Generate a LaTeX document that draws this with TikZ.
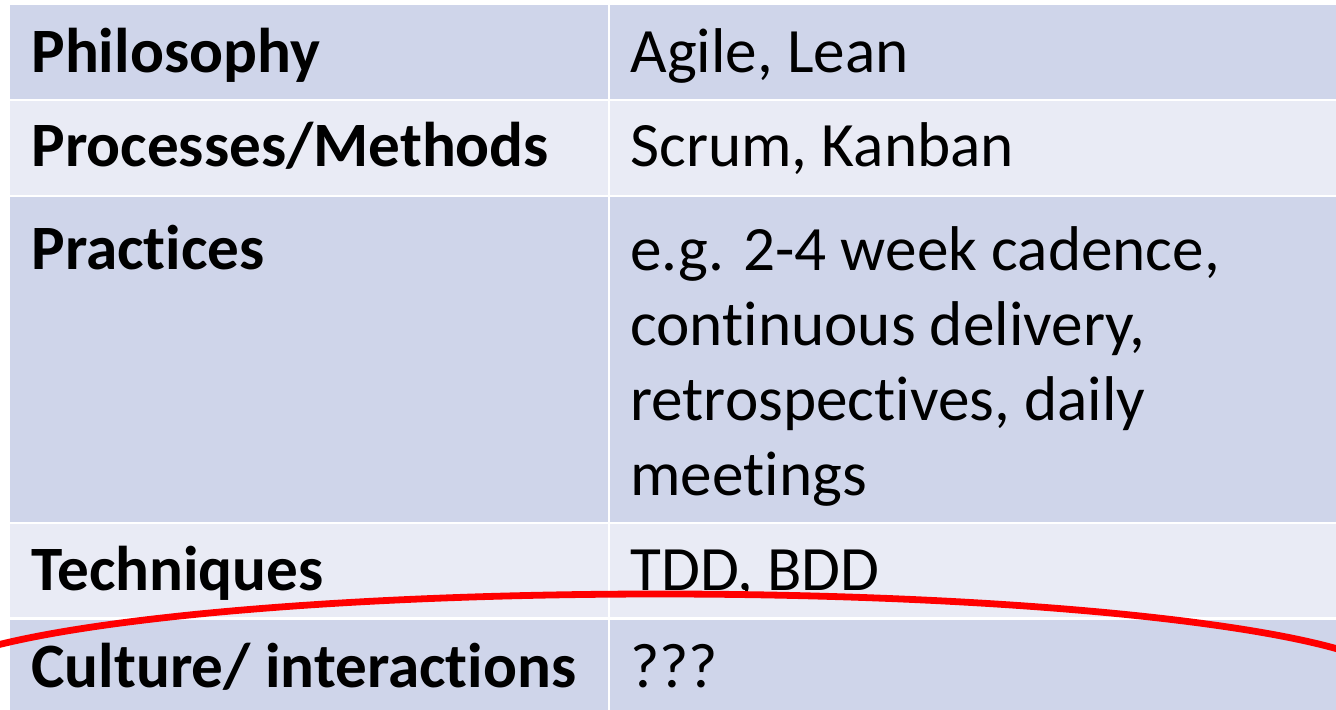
\documentclass[tikz,border=0pt]{standalone}
\usepackage{fontspec}
\setmainfont[Ligatures=NoCommon]{Carlito}
\usepackage{xcolor}
\definecolor{rowdark}{HTML}{CFD5EA}
\definecolor{rowlight}{HTML}{E9EBF5}
\tikzset{
  cell/.style={inner sep=0pt, anchor=base west, align=left,
               font=\fontsize{31.6}{37.5}\selectfont},
  head/.style={cell, font=\fontsize{31.6}{37.5}\selectfont\bfseries}
}
\begin{document}
\begin{tikzpicture}[x=0.5pt,y=-0.5pt]
                \useasboundingbox (0,0) rectangle (1336,710);
                \clip (0,0) rectangle (1336,710);

                % row backgrounds
                \fill[rowdark]  (10,5)   rectangle (608,99);
                \fill[rowdark]  (610,5)  rectangle (1336,99);
                \fill[rowlight] (10,101) rectangle (608,195);
                \fill[rowlight] (610,101) rectangle (1336,195);
                \fill[rowdark]  (10,197) rectangle (608,522);
                \fill[rowdark]  (610,197) rectangle (1336,522);
                \fill[rowlight] (10,524) rectangle (608,617);
                \fill[rowlight] (610,524) rectangle (1336,617);
                \fill[rowdark]  (10,620) rectangle (608,710);
                \fill[rowdark]  (610,620) rectangle (1336,710);

                \node[head] (philo) at (31,73) {Philosophy};
                \node[cell] (agile) at (630,73) {Agile, Lean};
                \node[head] (proc) at (31,167) {Processes/Methods};
                \node[cell] (scrum) at (630,167) {Scrum, Kanban};
                \node[head] (pract) at (31,270) {Practices};
                % base of a multi-line node is its last line
                \node[cell] (egs) at (630,495) {e.g. 2-4 week cadence,\\continuous delivery,\\retrospectives, daily\\meetings};
                \node[head] (tech) at (31,590) {Techniques};
                \node[cell] (tdd) at (630,590) {TDD, BDD};
                \node[head] (cult) at (31,687) {Culture/ interactions};
                \node[cell] (qqq) at (630,687) {???};

                % red arc
                \draw[red, line width=3.4pt] (660,686) ellipse [x radius=740, y radius=92];
            \end{tikzpicture}
\end{document}
